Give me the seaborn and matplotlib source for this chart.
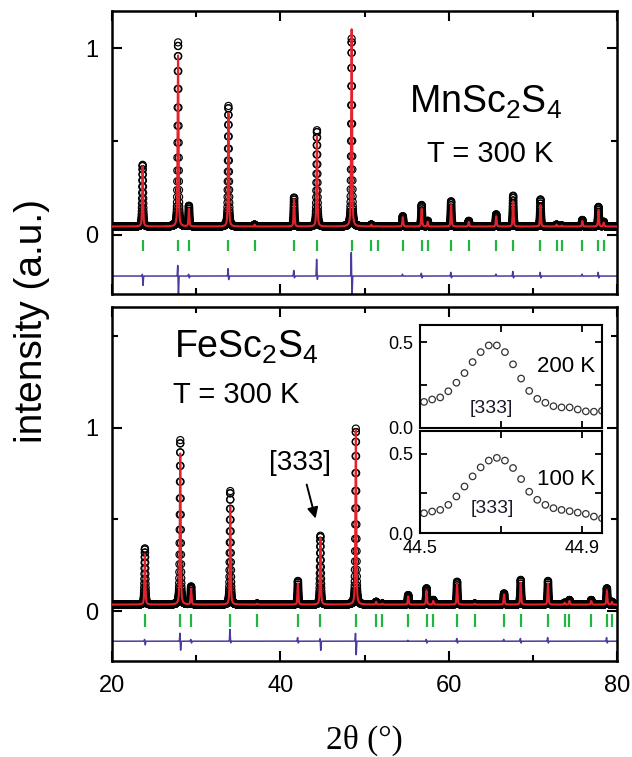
import numpy as np
import matplotlib
matplotlib.use("Agg")
import matplotlib.pyplot as plt
import seaborn as sns
from matplotlib.ticker import FixedLocator, FixedFormatter

# ---------------- data ----------------
# MnSc2S4, T = 300 K : reflection positions (2theta), observed / calculated peak heights
mn_pos = [23.64, 27.85, 29.14, 33.83, 36.94, 41.63, 44.35, 48.47, 50.81, 51.58, 54.55, 56.79,
          57.51, 60.29, 62.39, 65.65, 67.66, 70.91, 72.82, 73.44, 75.88, 77.80, 78.42]
mn_obs = [0.375, 1.03, 0.155, 0.69, 0.055, 0.20, 0.56, 1.05, 0.055, 0.047, 0.10, 0.16,
          0.075, 0.18, 0.075, 0.11, 0.21, 0.19, 0.055, 0.05, 0.08, 0.15, 0.07]
mn_calc = [0.366, 0.96, 0.14, 0.65, 0.055, 0.19, 0.53, 1.10, 0.055, 0.047, 0.095, 0.14,
           0.07, 0.16, 0.07, 0.10, 0.18, 0.16, 0.055, 0.05, 0.075, 0.13, 0.065]
mn_background = 0.045
mn_diff_up = [0.01, 0.06, 0.01, 0.04, 0.0, 0.03, 0.09, 0.13, 0.0, 0.0, 0.01, 0.015,
              0.0, 0.02, 0.0, 0.01, 0.025, 0.02, 0.0, 0.0, 0.01, 0.02, 0.0]
mn_diff_dn = [0.05, 0.12, 0.01, 0.02, 0.0, 0.01, 0.02, 0.12, 0.0, 0.0, 0.0, 0.01,
              0.0, 0.01, 0.0, 0.0, 0.01, 0.01, 0.0, 0.0, 0.0, 0.01, 0.0]
mn_diff_offset = -0.22

# FeSc2S4, T = 300 K
fe_pos = [23.91, 28.11, 29.40, 34.05, 37.24, 42.09, 44.76, 48.97, 51.39, 52.12, 55.19, 57.37,
          58.17, 61.00, 63.10, 66.58, 68.56, 71.80, 73.78, 74.35, 76.94, 78.80, 79.40]
fe_obs = [0.342, 0.933, 0.133, 0.655, 0.04, 0.164, 0.411, 0.996, 0.05, 0.04, 0.087, 0.124,
          0.06, 0.16, 0.04, 0.096, 0.17, 0.164, 0.045, 0.06, 0.06, 0.124, 0.05]
fe_calc = [0.31, 0.86, 0.12, 0.57, 0.04, 0.15, 0.40, 0.99, 0.05, 0.04, 0.08, 0.11,
           0.055, 0.145, 0.04, 0.09, 0.155, 0.15, 0.045, 0.055, 0.055, 0.11, 0.05]
fe_background = 0.035
fe_diff_up = [0.01, 0.045, 0.01, 0.065, 0.0, 0.02, 0.015, 0.045, 0.0, 0.0, 0.005, 0.01,
              0.0, 0.015, 0.0, 0.01, 0.015, 0.02, 0.0, 0.0, 0.0, 0.02, 0.0]
fe_diff_dn = [0.02, 0.05, 0.01, 0.01, 0.0, 0.01, 0.05, 0.075, 0.0, 0.0, 0.0, 0.01,
              0.0, 0.01, 0.0, 0.0, 0.01, 0.01, 0.0, 0.0, 0.0, 0.01, 0.0]
fe_diff_offset = -0.165

# Inset: [333] reflection of FeSc2S4
inset_2theta = [44.51, 44.53, 44.55, 44.57, 44.59, 44.61, 44.63, 44.65, 44.67, 44.69, 44.71, 44.73,
                44.75, 44.77, 44.79, 44.81, 44.83, 44.85, 44.87, 44.89, 44.91, 44.93, 44.95]
inset_200K = [0.152, 0.166, 0.178, 0.214, 0.264, 0.320, 0.384, 0.442, 0.481, 0.481, 0.442, 0.371,
              0.288, 0.216, 0.170, 0.147, 0.127, 0.120, 0.120, 0.108, 0.097, 0.095, 0.100]
inset_100K = [0.125, 0.136, 0.146, 0.178, 0.231, 0.294, 0.358, 0.415, 0.458, 0.475, 0.458, 0.411,
              0.341, 0.261, 0.210, 0.178, 0.157, 0.146, 0.138, 0.129, 0.121, 0.104, 0.093]

x_ticks = [20, 40, 60, 80]
x_tick_labels = ["20", "40", "60", "80"]

# ---------------- style ----------------
sns.set_theme(style="ticks")
plt.rcParams["font.family"] = ["Liberation Sans", "DejaVu Sans"]
plt.rcParams["mathtext.fontset"] = "custom"
plt.rcParams["mathtext.rm"] = "Liberation Sans"
plt.rcParams["mathtext.default"] = "regular"
plt.rcParams["text.color"] = "black"
plt.rcParams["axes.labelcolor"] = "black"
plt.rcParams["xtick.color"] = "black"
plt.rcParams["ytick.color"] = "black"
plt.rcParams["xtick.labelcolor"] = "black"
plt.rcParams["ytick.labelcolor"] = "black"

RED = "#e3232b"
GREEN = "#22b540"
PURPLE = "#4b3b9e"
W, H = 632, 757

fig = plt.figure(figsize=(W / 100, H / 100), dpi=100)
fig.patch.set_facecolor("white")


def box(l, t, r, b):
    return [l / W, 1 - b / H, (r - l) / W, (b - t) / H]


ax_top = fig.add_axes(box(112, 11, 617, 294))
ax_bot = fig.add_axes(box(112, 307, 617, 661))
ax_in1 = fig.add_axes(box(420, 325, 602, 428))
ax_in2 = fig.add_axes(box(420, 431, 602, 533))


def profile(x, pos, heights, bg, fwhm=0.13, eta=0.5):
    y = np.full_like(x, bg)
    for p, h in zip(pos, heights):
        dx = x - p
        g = np.exp(-4 * np.log(2) * dx ** 2 / fwhm ** 2)
        l = 1.0 / (1.0 + 4 * dx ** 2 / fwhm ** 2)
        y += (h - bg) * (eta * l + (1 - eta) * g)
    return y


def diff_curve(x, pos, up, dn, offset, w=0.03, shift=0.04):
    y = np.full_like(x, offset)
    for p, u, d in zip(pos, up, dn):
        y += u * np.exp(-(x - p + shift) ** 2 / (2 * w ** 2))
        y -= d * np.exp(-(x - p - shift) ** 2 / (2 * w ** 2))
    return y


def draw_panel(ax, pos, obs, calc, bg, up, dn, off, tick_lo, tick_hi, ylim, yminor):
    x = np.round(np.arange(20.0, 80.0 + 1e-9, 0.01), 2)
    y_obs = profile(x, pos, obs, bg)
    y_calc = profile(x, pos, calc, bg)
    y_diff = diff_curve(x, pos, up, dn, off)
    sns.scatterplot(x=x, y=y_obs, ax=ax, marker="o", s=26, facecolor="none",
                    edgecolor="black", linewidth=0.85, legend=False, zorder=2)
    sns.lineplot(x=x, y=y_calc, ax=ax, color=RED, lw=1.5, estimator=None,
                 sort=False, zorder=3)
    sns.lineplot(x=x, y=y_diff, ax=ax, color=PURPLE, lw=1.1, estimator=None,
                 sort=False, zorder=2)
    ax.vlines(pos, tick_lo, tick_hi, color=GREEN, lw=1.6, zorder=2)
    ax.set_xlim(20, 80)
    ax.set_ylim(*ylim)
    ax.xaxis.set_major_locator(FixedLocator(x_ticks))
    ax.xaxis.set_minor_locator(FixedLocator([30, 50, 70]))
    ax.yaxis.set_major_locator(FixedLocator([0, 1]))
    ax.yaxis.set_major_formatter(FixedFormatter(["0", "1"]))
    ax.yaxis.set_minor_locator(FixedLocator(yminor))
    ax.tick_params(which="both", direction="in", top=True, right=True,
                   width=1.5, color="black", labelsize=17, labelcolor="black")
    ax.tick_params(which="major", length=7)
    ax.tick_params(which="minor", length=4)
    ax.tick_params(axis="y", pad=10)
    ax.tick_params(axis="x", pad=10)
    for s in ax.spines.values():
        s.set_linewidth(1.8)
        s.set_color("black")
    ax.set_xlabel("")
    ax.set_ylabel("")
    ax.set_facecolor("white")


draw_panel(ax_top, mn_pos, mn_obs, mn_calc, mn_background, mn_diff_up, mn_diff_dn,
           mn_diff_offset, -0.085, -0.025, (-0.316, 1.198), [0.5])
ax_top.xaxis.set_major_formatter(FixedFormatter(["", "", "", ""]))

draw_panel(ax_bot, fe_pos, fe_obs, fe_calc, fe_background, fe_diff_up, fe_diff_dn,
           fe_diff_offset, -0.09, -0.015, (-0.273, 1.66), [0.5, 1.5])
ax_bot.xaxis.set_major_formatter(FixedFormatter(x_tick_labels))

# panel annotations
ax_top.text(0.588, 0.64, r"MnSc$_2$S$_4$", transform=ax_top.transAxes,
            fontsize=27, ha="left", va="baseline", color="black")
ax_top.text(0.749, 0.466, "T = 300 K", transform=ax_top.transAxes,
            fontsize=21, ha="center", va="baseline", color="black")
ax_bot.text(0.123, 0.856, r"FeSc$_2$S$_4$", transform=ax_bot.transAxes,
            fontsize=27, ha="left", va="baseline", color="black")
ax_bot.text(0.121, 0.729, "T = 300 K", transform=ax_bot.transAxes,
            fontsize=21, ha="left", va="baseline", color="black")
ax_bot.text(42.35, 0.81, "[333]", fontsize=20, ha="center", va="center", color="black")
ax_bot.annotate("", xy=(44.27, 0.49), xytext=(43.05, 0.705),
                arrowprops=dict(arrowstyle="-|>", color="black", lw=1.4,
                                mutation_scale=16))

# insets
for ax, vals, label, lab_y, br_x, br_y in [
        (ax_in1, inset_200K, "200 K", 0.544, 0.39, 0.194),
        (ax_in2, inset_100K, "100 K", 0.47, 0.40, 0.245)]:
    sns.scatterplot(x=inset_2theta, y=vals, ax=ax, marker="o", s=22, facecolor="none",
                    edgecolor="#333333", linewidth=0.9, legend=False, clip_on=True)
    ax.set_xlim(44.5, 44.95)
    ax.xaxis.set_major_locator(FixedLocator([44.5, 44.7, 44.9]))
    ax.yaxis.set_major_locator(FixedLocator([0.0, 0.25, 0.5]))
    ax.yaxis.set_major_formatter(FixedFormatter(["0.0", "", "0.5"]))
    ax.tick_params(which="both", direction="in", top=True, right=True, width=1.3,
                   length=5, labelsize=13, pad=5, color="black", labelcolor="black")
    for s in ax.spines.values():
        s.set_linewidth(1.5)
        s.set_color("black")
    ax.set_facecolor("white")
    ax.set_xlabel("")
    ax.set_ylabel("")
    ax.text(0.962, lab_y, label, transform=ax.transAxes, fontsize=16,
            ha="right", va="baseline", color="black")
    ax.text(br_x, br_y, "[333]", transform=ax.transAxes, fontsize=14,
            ha="center", va="center", color="#1a1a2a")

ax_in1.set_ylim(0, 0.6)
ax_in2.set_ylim(0, 0.645)
ax_in1.xaxis.set_major_formatter(FixedFormatter(["", "", ""]))
ax_in2.xaxis.set_major_formatter(FixedFormatter(["44.5", "", "44.9"]))

# axis labels
fig.text(32 / W, 1 - 321 / H, "intensity (a.u.)", rotation=90, fontsize=28,
         ha="center", va="center", color="black")
fig.text(364.5 / W, 1 - 740 / H, "2θ (°)", fontsize=24, ha="center", va="center",
         family=["Liberation Serif", "DejaVu Serif"], color="black")

fig.savefig("out.png", dpi=100, facecolor="white")
